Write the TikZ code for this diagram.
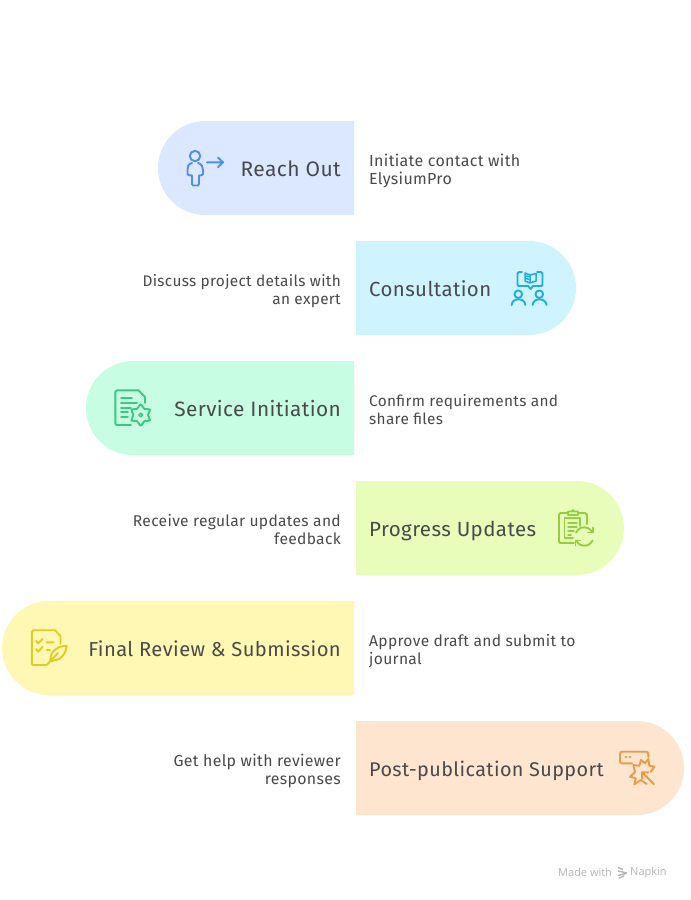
\documentclass[tikz,border=0pt]{standalone}
\usepackage{fontspec}
\setmainfont{Open Sans}
\newfontfamily\headfont[LetterSpace=2]{Fira Sans}
\newfontfamily\bodyfont[LetterSpace=2]{Fira Sans}
\newfontfamily\markfont{Open Sans}
\definecolor{ink}{HTML}{4A4A4A}
\definecolor{pblue}{HTML}{DBE8FF}\definecolor{pcyan}{HTML}{CFF4FF}\definecolor{pgreen}{HTML}{C6FDE3}
\definecolor{plime}{HTML}{E8FDBA}\definecolor{pyellow}{HTML}{FEF8B4}\definecolor{porange}{HTML}{FEE5D0}
\definecolor{iblue}{HTML}{4D8EF0}\definecolor{icyan}{HTML}{1FAEDD}\definecolor{igreen}{HTML}{3CC97F}
\definecolor{ilime}{HTML}{94CF3F}\definecolor{iyellow}{HTML}{E5CB20}\definecolor{iorange}{HTML}{EE9A45}
\definecolor{markgrey}{HTML}{B4B4B4}
\tikzset{
  x=1pt,y=-1pt,
  head/.style={text=ink,inner sep=0pt,font=\headfont\fontsize{#1}{24}\selectfont},
  headl/.style={head=#1,anchor=base east},
  headr/.style={head=#1,anchor=base west},
  bodytext/.style={text=ink,inner sep=0pt,font=\bodyfont\fontsize{#1}{18}\selectfont,
    execute at begin node={\rule{0pt}{13pt}},execute at end node={\rule[-5pt]{0pt}{5pt}}},
  bodyl/.style={bodytext=#1,anchor=east,align=right},
  bodyr/.style={bodytext=#1,anchor=west,align=left},
  icon/.style={line width=1.9pt,line cap=round,line join=round,draw=#1},
  thin icon/.style={line width=1.5pt,line cap=round,line join=round,draw=#1},
  marktext/.style={text=markgrey,inner sep=0pt,anchor=west,font=\markfont\fontsize{11}{13}\selectfont}
}
\begin{document}
\begin{tikzpicture}
\useasboundingbox (0,0) rectangle (691,900);
\fill[white] (0,0) rectangle (691,900);
% pills
\fill[pblue]   (354,121) -- (205,121) arc[start angle=90,end angle=270,x radius=47,y radius=-47] -- (354,215) -- cycle;
\fill[pcyan]   (356,241) -- (529,241) arc[start angle=90,end angle=-90,x radius=47,y radius=-47] -- (356,335) -- cycle;
\fill[pgreen]  (354,361) -- (133,361) arc[start angle=90,end angle=270,x radius=47,y radius=-47] -- (354,455) -- cycle;
\fill[plime]   (356,481) -- (577,481) arc[start angle=90,end angle=-90,x radius=47,y radius=-47] -- (356,575) -- cycle;
\fill[pyellow] (354,601) -- (49,601) arc[start angle=90,end angle=270,x radius=47,y radius=-47] -- (354,695) -- cycle;
\fill[porange] (356,721) -- (637,721) arc[start angle=90,end angle=-90,x radius=47,y radius=-47] -- (356,815) -- cycle;
% titles
\node[headl=21] (t1) at (341,176) {Reach Out};
\node[headr=20.4] (t2) at (369,296) {Consultation};
\node[headl=20.8] (t3) at (341,416) {Service Initiation};
\node[headr=20.5] (t4) at (369,536) {Progress Updates};
\node[headl=20.2] (t5) at (341,656) {Final Review \& Submission};
\node[headr=19.8] (t6) at (369,776) {Post-publication Support};
% descriptions
\node[bodyr=16] (d1) at (369,171.5) {Initiate contact with\\ElysiumPro};
\node[bodyl=15.4] (d2) at (341,291.5) {Discuss project details with\\an expert};
\node[bodyr=15.4] (d3) at (369,411.5) {Confirm requirements and\\share files};
\node[bodyl=15.6] (d4) at (341,531.5) {Receive regular updates and\\feedback};
\node[bodyr=15.6] (d5) at (369,651.5) {Approve draft and submit to\\journal};
\node[bodyl=15.9] (d6) at (341,771.5) {Get help with reviewer\\responses};
% icon 1
\draw[icon=iblue] (195,156) circle[radius=5.2];
\draw[icon=iblue] (192,163) .. controls (188,164) and (187.5,167) .. (187.5,170) -- (187.5,174) .. controls (187.5,175) and (189,175.5) .. (192,175.5) -- (192,184) .. controls (192,185) and (192.5,185.5) .. (193,185.5) -- (198,185.5) .. controls (198.5,185.5) and (199,185) .. (199,184) -- (199,175.5) .. controls (201,175.5) and (203,175) .. (203,174) -- (203,170) .. controls (203,167) and (202,164) .. (198,163);
\draw[icon=iblue] (207,162.3) -- (223,162.3) (218,157.5) -- (223,162.3) -- (218,167.2);
% icon 2
\draw[icon=icyan] (522,272) -- (519,272) .. controls (518,272) and (517.5,272.5) .. (517.5,273.5) -- (517.5,284) .. controls (517.5,285.5) and (518,286) .. (519,286) -- (528,286) -- (530.7,289) -- (533,286) -- (541,286) .. controls (542,286) and (542.5,285.5) .. (542.5,284) -- (542.5,273.5) .. controls (542.5,272.5) and (542,272) .. (541,272) -- (537,272);
\draw[thin icon=icyan] (525,273) -- (530,275) -- (530,283) -- (525,281) -- cycle (530,275) -- (536,273.5) (536,273.5) -- (536,281) -- (530,283) (526.5,276) -- (528.5,276.8) (526.5,278.5) -- (528.5,279.3);
\draw[icon=icyan] (518.3,294.2) circle[radius=3.8];
\draw[icon=icyan] (511.7,305) .. controls (512,301) and (515,299.3) .. (518.3,299.3) .. controls (522,299.3) and (525,301) .. (525.3,305);
\draw[icon=icyan] (539.3,294.2) circle[radius=3.8];
\draw[icon=icyan] (532.7,305) .. controls (533,301) and (536,299.3) .. (539.3,299.3) .. controls (543,299.3) and (546,301) .. (546.6,305);
% icon 3
\draw[icon=igreen] (131,425) -- (117,425) .. controls (116,425) and (115.3,424.5) .. (115.3,423) -- (115.3,392) .. controls (115.3,391) and (116,390.3) .. (117,390.3) -- (138.5,390.3) -- (145,397) -- (145,403);
\draw[icon=igreen] (121,398) -- (132,398) (121,403) -- (137,403) (121,408) -- (131,408) (121,412) -- (128,412) (121,417) -- (128,417);
\draw[icon=igreen] plot[smooth cycle,tension=0.6] coordinates {(140.7,404.5) (144.5,409) (150,409.5) (148,415) (150,420.5) (144.5,421) (140.7,425.5) (136.9,421) (131.4,420.5) (133.4,415) (131.4,409.5) (136.9,409)};
\draw[thin icon=igreen] (140.7,415) circle[radius=1.8];
% icon 4
\draw[icon=ilime] (568,513) -- (560.5,513) .. controls (559.5,513) and (559,513.5) .. (559,514.5) -- (559,541) .. controls (559,542.5) and (559.5,543) .. (560.5,543) -- (574,543);
\draw[icon=ilime] (578,513) -- (585,513) .. controls (586,513) and (586.8,513.5) .. (586.8,514.5) -- (586.8,524);
\draw[icon=ilime] (568,515) -- (568,511.5) -- (572,511.5) -- (573,510) -- (574,511.5) -- (578,511.5) -- (578,515) -- cycle;
\draw[icon=ilime] (573,538) -- (564.5,538) -- (564.5,518) -- (580,518) -- (580,526);
\draw[thin icon=ilime] (568,523) -- (577,523) (568,527) -- (577,527) (568,531) -- (574,531) (568,535) -- (571,535);
\draw[icon=ilime] (576,532.5) arc[start angle=155,end angle=25,radius=9,y radius=-9];
\draw[icon=ilime] (592.5,540.5) arc[start angle=-25,end angle=-155,radius=9,y radius=-9];
\draw[icon=ilime] (593,527.5) -- (593,532.5) -- (588,532.5);
\draw[icon=ilime] (575.5,545.5) -- (575.5,540.5) -- (580.5,540.5);
% icon 5
\draw[icon=iyellow] (46,665) -- (33.5,665) .. controls (32.5,665) and (31.8,664.5) .. (31.8,663) -- (31.8,632) .. controls (31.8,631) and (32.5,630.2) .. (33.5,630.2) -- (55,630.2) -- (60.5,636) -- (60.5,644);
\draw[icon=iyellow] (36,641) -- (38.3,643.3) -- (42.5,639) (36,649) -- (38.3,651.7) -- (42.5,646.8) (46.7,642.3) -- (53.3,642.3) (46.7,650) -- (50,650);
\draw[icon=iyellow] (66.7,645.7) .. controls (57,646) and (50,652) .. (50.5,660) .. controls (51,661.5) and (52,662) .. (53,660.5) .. controls (60,661) and (66,654) .. (66.7,645.7) -- cycle;
\draw[icon=iyellow] (46.7,665) -- (58,653);
% icon 6
\draw[icon=iorange] (632,763.3) -- (622,763.3) .. controls (620.8,763.3) and (620,762.5) .. (620,761.3) -- (620,753.7) .. controls (620,752.5) and (620.8,751.7) .. (622,751.7) -- (646,751.7) .. controls (647.5,751.7) and (648.3,752.5) .. (648.3,754) -- (648.3,757);
\fill[iorange] (626,757) circle[radius=1.3] (630,757) circle[radius=1.3];
\draw[icon=iorange] (650.7,771.7) -- (654.3,766.7) -- (649.3,765.7) -- (648.3,759) -- (645,763.3) -- (641,760) -- (639.3,765.7) -- (633.3,765) -- (635,772.3) -- (630,776.7) -- (635.7,778.3) -- (634.3,784.3) -- (641,780) -- (646.7,784);
\draw[icon=iorange] (654,784.3) -- (642,772.3) (642,778.5) -- (642,772.3) -- (648.3,772.3);
% made with napkin
\node[marktext] (m1) at (558,872.5) {Made with};
\node[marktext] (m2) at (630,872.5) {Napkin};
\draw[markgrey,line width=1.4pt] (618,867.5) -- (623,869.5) (618,871) -- (627,873) (618,875.5) -- (626,873.5) (619,878) -- (624,876);
\end{tikzpicture}
\end{document}
